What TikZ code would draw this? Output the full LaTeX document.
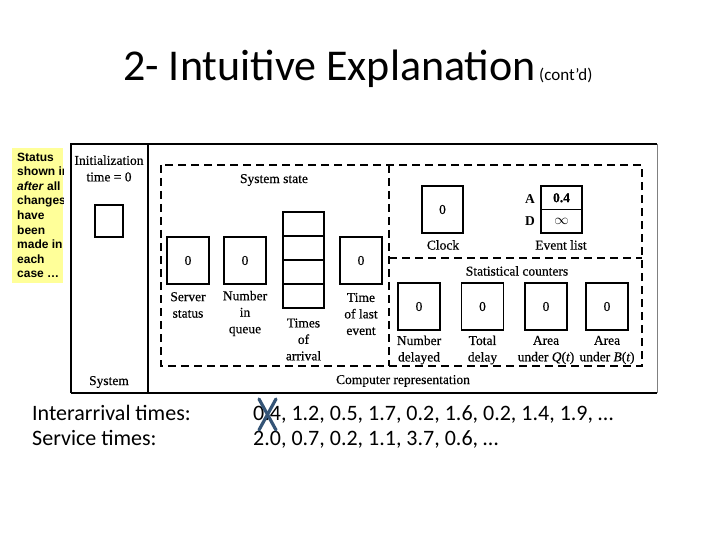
\documentclass[tikz,border=0pt]{standalone}
\usepackage{fontspec}
\setmainfont{Liberation Serif}
\newfontfamily\scan{Liberation Serif}[FakeBold=0.4]
\newfontfamily\calibri{Carlito}
\newfontfamily\arialf{Liberation Sans}
\definecolor{notey}{RGB}{255,255,153}
\definecolor{xcol}{RGB}{52,84,118}
\begin{document}
\begin{tikzpicture}[x=1pt,y=-1pt,
  cell/.style={draw,line width=1.1pt,minimum width=42pt,minimum height=47pt,inner sep=0pt,font=\scan\fontsize{13.5}{15}\selectfont},
  qcell/.style={draw,line width=1.1pt,minimum width=41pt,minimum height=24pt,inner sep=0pt},
  ecell/.style={draw,line width=1.1pt,minimum width=41pt,minimum height=23.5pt,inner sep=0pt,font=\scan\fontsize{13.5}{15}\selectfont},
  lbl/.style={align=center,inner sep=0pt,font=\scan\fontsize{13.5}{16.5}\selectfont},
  dsh/.style={dash pattern=on 8pt off 5pt,line width=1.1pt},
  bigtxt/.style={anchor=base west,inner sep=0pt,font=\calibri\fontsize{22}{26}\selectfont},
]
\useasboundingbox (0,0) rectangle (720,540);

% title
\node[anchor=base west,inner sep=0pt,font=\calibri\fontsize{44}{48}\selectfont] (title) at (123,81) {2- Intuitive Explanation};
\node[anchor=base west,inner sep=0pt,font=\calibri\fontsize{17}{20}\selectfont] (contd) at (539,81) {(cont’d)};

% yellow note
\node[fill=notey,minimum width=51pt,minimum height=135pt,anchor=north west,inner sep=0pt] (note) at (12,148) {};
\begin{scope}
\clip (12,148) rectangle (63,283);
\node[anchor=north west,align=left,inner sep=0pt,font=\arialf\bfseries\fontsize{12}{14.6}\selectfont] (notetext) at (17,152.5)
 {Status\\shown in\\\textit{after} all\\changes\\have\\been\\made in\\each\\case …};
\end{scope}

% outer frame
\draw[line width=2pt] (71,393) -- (71,144) -- (657,144);
\draw[line width=1.5pt] (71,393) -- (657,393);
\draw[gray,line width=0.8pt] (657,144) -- (657,393);
\draw[line width=1.2pt] (148,144) -- (148,393);

% system column
\node[lbl] (init) at (109,168.5) {Initialization\\time = 0};
\node[draw,line width=1.2pt,minimum width=28pt,minimum height=32pt,inner sep=0pt] (sysbox) at (109,221) {};
\node[lbl] (system) at (109,382) {System};

% dashed structure
\draw[dsh] (161,165) rectangle (642,366);
\draw[dsh] (389,165) -- (389,366);
\draw[dsh] (389,258) -- (642,258);

% system state
\node[lbl] (sstate) at (274,180) {System state};
\node[cell] (server) at (188,260.5) {0};
\node[cell] (queue) at (245,260.5) {0};
\node[qcell] (q1) at (303.5,224) {};
\node[qcell] (q2) at (303.5,248) {};
\node[qcell] (q3) at (303.5,272) {};
\node[qcell] (q4) at (303.5,296) {};
\node[cell] (lastev) at (361,260.5) {0};
\node[lbl] (serverl) at (188,305) {Server\\status};
\node[lbl] (queuel) at (245,313.5) {Number\\in\\queue};
\node[lbl] (timesl) at (303.5,339.5) {Times\\of\\arrival};
\node[lbl] (lastevl) at (361,314) {Time\\of last\\event};

% clock and event list
\node[cell,minimum width=41pt] (clock) at (442.5,209.5) {0};
\node[lbl] (clockl) at (443,245) {Clock};
\node[ecell] (evA) at (561.5,197.75) {\textbf{0.4}};
\node[ecell] (evD) at (561.5,221.25) {$\infty$};
\node[lbl,font=\bfseries\fontsize{13.5}{15}\selectfont] (Al) at (530,199) {A};
\node[lbl,font=\bfseries\fontsize{13.5}{15}\selectfont] (Dl) at (530,221) {D};
\node[lbl] (evl) at (561,245) {Event list};

% statistical counters
\node[lbl] (statl) at (517,271) {Statistical counters};
\node[cell] (c1) at (419,306.5) {0};
\node[cell] (c2) at (482.5,306.5) {0};
\node[cell] (c3) at (546,306.5) {0};
\node[cell] (c4) at (607,306.5) {0};
\node[lbl] (c1l) at (419,350) {Number\\delayed};
\node[lbl] (c2l) at (482.5,350) {Total\\delay};
\node[lbl] (c3l) at (546,350) {Area\\under {\itshape Q}({\itshape t})};
\node[lbl] (c4l) at (607,350) {Area\\under {\itshape B}({\itshape t})};

\node[lbl] (comprep) at (403,381) {Computer representation};

% bottom text
\node[bigtxt] (ia) at (32,420) {Interarrival times:};
\node[bigtxt] (st) at (32,445) {Service times:};
\node[bigtxt] (ian) at (253,420) {0.4, 1.2, 0.5, 1.7, 0.2, 1.6, 0.2, 1.4, 1.9, …};
\node[bigtxt] (stn) at (253,445) {2.0, 0.7, 0.2, 1.1, 3.7, 0.6, …};

% cross mark
\draw[xcol,line width=3.2pt,line cap=round] (259,399) -- (276,430);
\draw[xcol,line width=3.2pt,line cap=round] (276,399) -- (259,430);
\end{tikzpicture}
\end{document}
